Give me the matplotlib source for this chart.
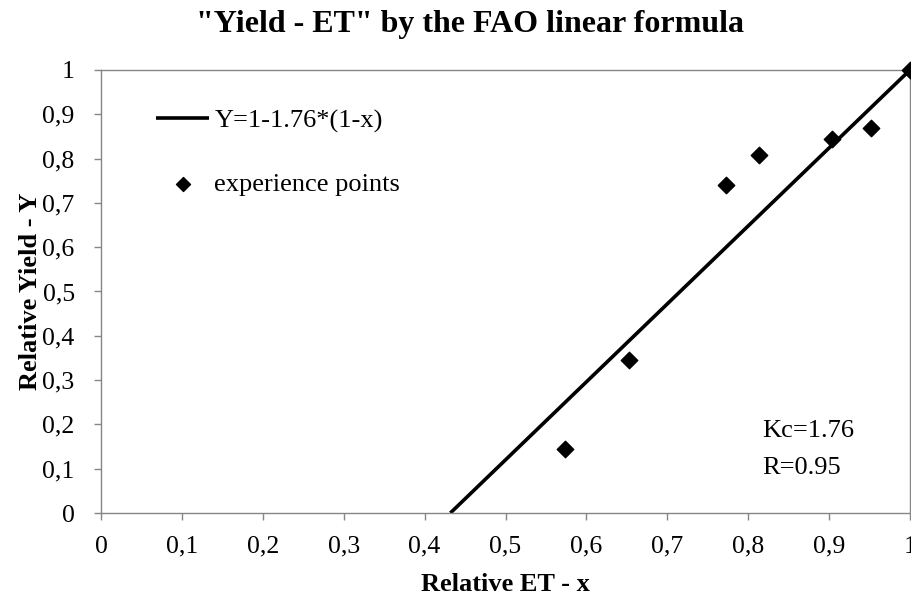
import numpy as np
import matplotlib.pyplot as plt

# Experimental points (relative ET, relative yield)
et_points = [0.574, 0.653, 0.773, 0.813, 0.904, 0.952, 1.0]
yield_points = [0.144, 0.345, 0.740, 0.807, 0.844, 0.868, 1.0]

# FAO linear model coefficient
ky = 1.76
r_value = 0.95

x_ticks = [0, 0.1, 0.2, 0.3, 0.4, 0.5, 0.6, 0.7, 0.8, 0.9, 1]
y_ticks = [0, 0.1, 0.2, 0.3, 0.4, 0.5, 0.6, 0.7, 0.8, 0.9, 1]


def comma(v):
    return "0" if v == 0 else ("1" if v == 1 else f"{v:.1f}".replace(".", ","))


plt.rcParams["font.family"] = ["Liberation Serif", "DejaVu Serif"]

fig = plt.figure(figsize=(9.11, 5.98), dpi=100)
ax = fig.add_axes([0.1109, 0.1421, 0.8880, 0.7409])

# model line from the x-intercept up to x = 1
x_line = np.array([1 - 1 / ky, 1.0])
y_line = 1 - ky * (1 - x_line)
ax.plot(x_line, y_line, color="black", linewidth=2.6, label="Y=1-1.76*(1-x)",
        solid_capstyle="butt")
ax.scatter(et_points, yield_points, marker="D", s=70, color="black",
           label="experience points", zorder=3, clip_on=False)

ax.set_xlim(0, 1)
ax.set_ylim(0, 1)
ax.set_xticks(x_ticks)
ax.set_yticks(y_ticks)
ax.set_xticklabels([comma(v) for v in x_ticks])
ax.set_yticklabels([comma(v) for v in y_ticks])
ax.tick_params(axis="both", direction="out", length=5, width=1, color="#868686",
               labelsize=18.5)
ax.tick_params(axis="x", pad=11.5)
ax.tick_params(axis="y", pad=14)

for side in ["left", "bottom", "top", "right"]:
    ax.spines[side].set_color("#868686")
    ax.spines[side].set_linewidth(1)

ax.set_xlabel("Relative ET - x", fontsize=19, fontweight="bold", labelpad=11)
ax.set_ylabel("Relative Yield - Y", fontsize=19, fontweight="bold", labelpad=0.5)
fig.suptitle('"Yield - ET" by the FAO linear formula', fontsize=23,
             fontweight="bold", x=0.516, y=0.984)

ax.text(0.817, 0.186, f"Kc={ky}", fontsize=19, va="center")
ax.text(0.817, 0.102, f"R={r_value}", fontsize=19, va="center")

ax.legend(loc="upper left", bbox_to_anchor=(0.039, 0.966), frameon=False,
          fontsize=19, handlelength=2.0, handletextpad=0.2, labelspacing=1.5,
          markerscale=0.85)

fig.savefig("out.png", dpi=100)
